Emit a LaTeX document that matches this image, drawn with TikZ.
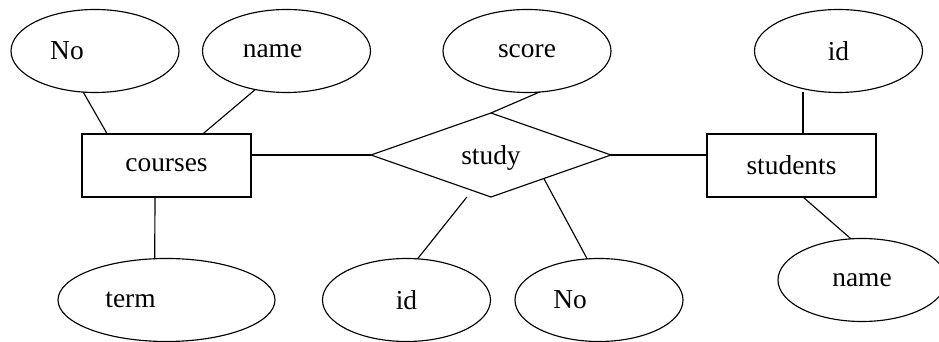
\documentclass[tikz,border=0pt]{standalone}
\usepackage{fontspec}
\setmainfont{Liberation Serif}
\usetikzlibrary{shapes.geometric}
\begin{document}
\begin{tikzpicture}[line width=0.65pt,
    font=\fontsize{15.6}{18}\selectfont,
    attr/.style={draw, ellipse, minimum width=3.36cm, minimum height=1.66cm,
      inner sep=0pt, outer sep=0pt},
    entity/.style={draw, rectangle, minimum width=3.38cm, minimum height=1.26cm,
      inner sep=0pt, outer sep=0pt},
    relation/.style={draw, diamond, aspect=2.86, minimum width=4.8cm,
      minimum height=1.68cm, inner sep=0pt, outer sep=0pt, text depth=0pt}]
  \useasboundingbox (0, 0) rectangle (18.78, 6.84);
  % entities and relation
  \node[entity] (courses) at (3.33, 3.53) {courses};
  \node[entity] (students) at (15.83, 3.53) {students};
  \node[relation] (study) at (9.82, 3.74) {study};
  % attributes
  \node[attr] (cno) at (1.9, 5.82) {No\hspace*{1.12cm}};
  \node[attr] (cname) at (5.73, 5.82) {name\hspace*{0.56cm}};
  \node[attr, minimum width=4.34cm] (term) at (3.33, 0.84) {term\hspace*{1.44cm}};
  \node[attr] (score) at (10.54, 5.82) {score};
  \node[attr] (sid) at (8.13, 0.84) {id};
  \node[attr] (sno) at (11.98, 0.84) {No\hspace*{1.16cm}};
  \node[attr] (stid) at (16.77, 5.82) {id};
  \node[attr] (stname) at (17.24, 1.24) {name};
  % connectors
  \draw (cno.254) -- (courses.152);
  \draw (cname.231) -- (courses.41);
  \draw (courses.250) -- (term.106);
  \draw (courses.east |- study.west) -- (study.west);
  \draw (score.287) -- (study.north);
  \draw[shorten >=1.7mm] (sid.75) -- (study.242);
  \draw (sno.106) -- (study.336);
  \draw (study.east) -- (study.east -| students.west);
  \draw (students.70) -- (students.70 |- stid.south);
  \draw (students.290) -- (stname.105);
\end{tikzpicture}
\end{document}
